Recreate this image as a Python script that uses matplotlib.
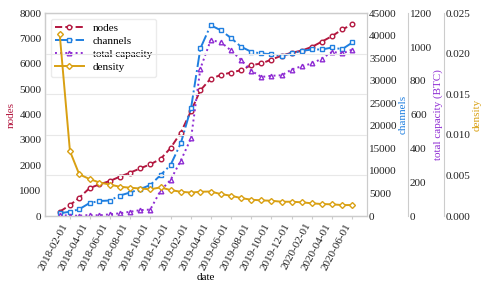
import numpy as np
import pandas as pd
import matplotlib
matplotlib.use('Agg')
import matplotlib.pyplot as plt
import matplotlib.dates as mdates
from matplotlib.ticker import MultipleLocator

plt.rcParams['font.family'] = ['Liberation Serif', 'DejaVu Serif']
plt.rcParams['font.size'] = 8

# monthly snapshots
dates = pd.date_range('2018-01-01', periods=30, freq='MS')
nodes = [170, 430, 720, 1100, 1250, 1380, 1550, 1710, 1880, 2040,
         2250, 2680, 3290, 4150, 4960, 5420, 5560, 5660, 5750, 5950,
         6020, 6170, 6330, 6440, 6530, 6680, 6880, 7100, 7360, 7560]
channels = [600, 950, 1510, 2880, 3330, 3440, 4540, 5210, 5990, 6870,
            9090, 11300, 16150, 24000, 37200, 42340, 41240, 39530, 37600, 36450,
            36070, 35920, 35540, 36070, 36650, 36960, 36960, 37400, 37020, 38510]
capacity = [6, 2, 2, 6, 4, 10, 16, 25, 35, 38,
            150, 213, 328, 461, 873, 1040, 1030, 980, 925, 860,
            823, 830, 833, 867, 887, 903, 932, 972, 962, 985]
density = [0.0225, 0.0080, 0.00514, 0.00456, 0.00413, 0.00388, 0.00361, 0.00349, 0.00339, 0.00329,
           0.00353, 0.00320, 0.00299, 0.00289, 0.00299, 0.00302, 0.00271, 0.00250, 0.00222, 0.00201,
           0.00193, 0.00188, 0.00176, 0.00176, 0.00169, 0.00156, 0.00148, 0.00144, 0.00135, 0.00135]

c_nodes = '#b3173f'
c_chan = '#1f7fe0'
c_cap = '#8e2bd3'
c_dens = '#d9a012'
grey = '#cccccc'

fig = plt.figure(figsize=(4.92, 2.82), dpi=100)
ax1 = fig.add_axes([0.0915, 0.234, 0.6545, 0.719])
ax2 = ax1.twinx()
ax3 = ax1.twinx()
ax4 = ax1.twinx()
ax3.spines['right'].set_position(('axes', 1.127))
ax4.spines['right'].set_position(('axes', 1.239))

mk = dict(markersize=3.3, markerfacecolor='white', markeredgewidth=1, linewidth=1.4)
l1, = ax1.plot(dates, nodes, '--', marker='o', color=c_nodes, label='nodes', **mk)
l2, = ax2.plot(dates, channels, '-.', marker='s', color=c_chan, label='channels', **mk)
l3, = ax3.plot(dates, capacity, ':', marker='^', color=c_cap, label='total capacity', **mk)
l4, = ax4.plot(dates, density, '-', marker='D', color=c_dens, label='density',
               markersize=3, markerfacecolor='white', markeredgewidth=1, linewidth=1.4)

ax1.set_ylim(0, 8000)
ax2.set_ylim(0, 45000)
ax3.set_ylim(0, 1200)
ax4.set_ylim(0, 0.025)
ax2.yaxis.set_major_locator(MultipleLocator(5000))
ax3.yaxis.set_major_locator(MultipleLocator(200))
ax4.yaxis.set_major_locator(MultipleLocator(0.005))

ax4.grid(axis='y', color='#e8e8e8', linewidth=0.8)
ax4.set_axisbelow(True)

for ax in (ax1, ax2, ax3, ax4):
    for s in ax.spines.values():
        s.set_color(grey)
        s.set_linewidth(0.8)
    ax.tick_params(colors='#222222', length=0, pad=1.5)

ax1.tick_params(axis='y', pad=2.5)
ax1.tick_params(axis='x', length=2, color=grey, pad=2)
ax1.set_xticks(dates[1::2])
ax1.xaxis.set_major_formatter(mdates.DateFormatter('%Y-%m-%d'))
plt.setp(ax1.get_xticklabels(), rotation=62, ha='right')

ax1.set_xlabel('date', labelpad=1)
ax1.set_ylabel('nodes', color=c_nodes, labelpad=3)
ax2.set_ylabel('channels', color=c_chan, labelpad=1)
ax3.set_ylabel('total capacity (BTC)', color=c_cap, labelpad=1)
ax4.set_ylabel('density', color=c_dens, labelpad=1)

leg = ax1.legend(handles=[l1, l2, l3, l4], loc='upper left', fontsize=8,
                 handlelength=2.6, framealpha=0.8, edgecolor='#e6e6e6',
                 borderpad=0.4, labelspacing=0.3)

plt.savefig('out.png', dpi=100)
